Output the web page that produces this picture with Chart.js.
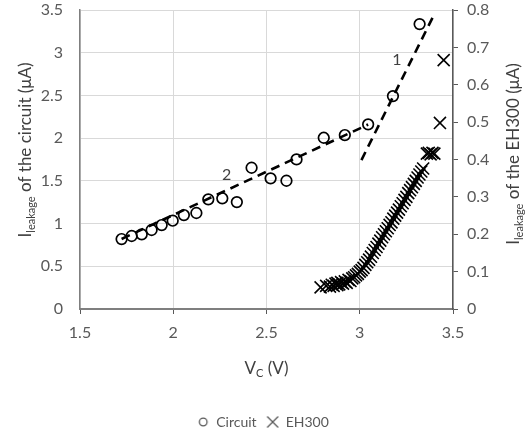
<!DOCTYPE html>
<html><head><meta charset="utf-8">
<script src="https://cdn.jsdelivr.net/npm/chart.js@4/dist/chart.umd.min.js"></script>
<style>html,body{margin:0;padding:0;background:#fff}</style>
</head><body>
<canvas id="c" width="526" height="439"></canvas>
<script>
// ---- data ----
const circuitV = [1.723,1.777,1.831,1.884,1.938,1.997,2.057,2.124,2.188,2.263,2.341,2.420,2.522,2.607,2.661,2.807,2.920,3.045,3.178,3.321];
const circuitI = [0.819,0.855,0.874,0.925,0.983,1.034,1.100,1.124,1.284,1.296,1.252,1.654,1.530,1.502,1.752,2.005,2.037,2.162,2.493,3.336];

const eh300V = [2.79,2.82,2.84,2.85,2.86,2.87,2.88,2.88,2.89,2.90,2.91,2.92,2.93,2.94,2.95,2.96,2.97,2.98,2.99,3.00,3.01,3.02,3.03,3.04,3.05,3.06,3.07,3.08,3.09,3.10,3.11,3.12,3.13,3.14,3.15,3.16,3.17,3.18,3.19,3.20,3.21,3.22,3.23,3.24,3.25,3.26,3.27,3.28,3.29,3.30,3.31,3.32,3.33,3.34,3.36,3.37,3.38,3.39,3.40,3.43,3.45];
const eh300I = [0.058,0.062,0.060,0.065,0.062,0.068,0.064,0.070,0.066,0.072,0.068,0.074,0.070,0.078,0.075,0.082,0.085,0.090,0.094,0.100,0.104,0.110,0.118,0.125,0.132,0.140,0.150,0.158,0.166,0.175,0.183,0.192,0.200,0.208,0.216,0.225,0.232,0.242,0.250,0.258,0.266,0.275,0.283,0.292,0.300,0.310,0.318,0.326,0.335,0.343,0.352,0.360,0.368,0.376,0.416,0.418,0.414,0.418,0.416,0.498,0.666];

const trend1V = [3.009, 3.397];
const trend1I = [1.744, 3.440];
const trend2V = [1.723, 3.045];
const trend2I = [0.820, 2.160];

const xTicks = [1.5, 2, 2.5, 3, 3.5];
const yLeftTicks = [0, 0.5, 1, 1.5, 2, 2.5, 3, 3.5];
const yRightTicks = [0, 0.1, 0.2, 0.3, 0.4, 0.5, 0.6, 0.7, 0.8];

const annotations = [
  {text: '1', v: 3.199, i: 2.915},
  {text: '2', v: 2.286, i: 1.568}
];

// ---- helpers ----
const FONT = 'Lato, "Open Sans", sans-serif';
const pts = (xs, ys) => xs.map((x, k) => ({x, y: ys[k]}));

function legendIcon(kind) {
  const c = document.createElement('canvas');
  c.width = 14; c.height = 14;
  const g = c.getContext('2d');
  g.strokeStyle = '#595959'; g.lineWidth = 1.3;
  if (kind === 'circle') {
    g.beginPath(); g.arc(7, 7, 3.8, 0, Math.PI * 2); g.stroke();
  } else {
    g.beginPath(); g.moveTo(1.5, 1.5); g.lineTo(12.5, 12.5); g.moveTo(12.5, 1.5); g.lineTo(1.5, 12.5); g.stroke();
  }
  return c;
}
const iconCircle = legendIcon('circle');
const iconCross = legendIcon('cross');

function drawSub(ctx, main, sub, rest, cx, cy, rot, size, subSize, drop) {
  ctx.save();
  ctx.translate(cx, cy);
  ctx.rotate(rot);
  ctx.textAlign = 'left';
  ctx.textBaseline = 'alphabetic';
  ctx.font = size + 'px ' + FONT;
  const w1 = ctx.measureText(main).width, w3 = ctx.measureText(rest).width;
  ctx.font = subSize + 'px ' + FONT;
  const w2 = ctx.measureText(sub).width;
  let px = -(w1 + w2 + w3) / 2;
  ctx.font = size + 'px ' + FONT; ctx.fillText(main, px, 0); px += w1;
  ctx.font = subSize + 'px ' + FONT; ctx.fillText(sub, px, drop); px += w2;
  ctx.font = size + 'px ' + FONT; ctx.fillText(rest, px, 0);
  ctx.restore();
}

const textPlugin = {
  id: 'texts',
  afterDraw(chart) {
    const ctx = chart.ctx;
    const sx = chart.scales.x, sy = chart.scales.y;
    ctx.save();
    ctx.fillStyle = '#404040';
    const cx = (chart.chartArea.left + chart.chartArea.right) / 2;
    drawSub(ctx, 'V', 'C', ' (V)', cx, 374, 0, 17, 11, 3);
    drawSub(ctx, 'I', 'leakage', ' of the circuit (μA)', 31, 150, -Math.PI / 2, 17, 11, 4);
    drawSub(ctx, 'I', 'leakage', ' of the EH300 (μA)', 519, 154, -Math.PI / 2, 17, 11, 4);
    ctx.font = '16px ' + FONT;
    ctx.textAlign = 'center';
    ctx.textBaseline = 'middle';
    annotations.forEach(a => {
      ctx.fillText(a.text, sx.getPixelForValue(a.v), sy.getPixelForValue(a.i));
    });
    ctx.restore();
  }
};

const noPad = (s) => { s.paddingTop = 0; s.paddingBottom = 0; };

new Chart(document.getElementById('c'), {
  type: 'scatter',
  data: {
    datasets: [
      {
        label: 'trend1', data: pts(trend1V, trend1I), yAxisID: 'y', showLine: true,
        borderColor: '#000', borderWidth: 2.6, borderDash: [9, 6], pointRadius: 0, order: 3
      },
      {
        label: 'trend2', data: pts(trend2V, trend2I), yAxisID: 'y', showLine: true,
        borderColor: '#000', borderWidth: 2.6, borderDash: [9, 6], pointRadius: 0, order: 3
      },
      {
        label: 'Circuit', data: pts(circuitV, circuitI), yAxisID: 'y',
        pointStyle: 'circle', pointRadius: 5.3, pointBorderWidth: 1.7,
        borderColor: '#000', backgroundColor: 'rgba(255,255,255,0)', order: 1
      },
      {
        label: 'EH300', data: pts(eh300V, eh300I), yAxisID: 'y2',
        pointStyle: 'crossRot', pointRadius: 8.5, pointBorderWidth: 1.6,
        borderColor: '#000', backgroundColor: '#000', order: 2
      }
    ]
  },
  options: {
    responsive: false,
    animation: false,
    devicePixelRatio: 1,
    layout: { padding: { top: 10, left: 0, right: 0, bottom: 0 } },
    plugins: {
      tooltip: { enabled: false },
      legend: {
        position: 'bottom',
        labels: {
          usePointStyle: true,
          boxWidth: 12, boxHeight: 12,
          padding: 10,
          color: '#595959',
          font: { family: FONT, size: 14 },
          filter: (item) => item.text === 'Circuit' || item.text === 'EH300',
          generateLabels: (chart) => chart.data.datasets.map((ds, i) => ({
            text: ds.label,
            datasetIndex: i,
            pointStyle: ds.label === 'Circuit' ? iconCircle : iconCross,
            fontColor: '#595959',
            strokeStyle: '#595959', fillStyle: '#fff', lineWidth: 0
          }))
        }
      }
    },
    scales: {
      x: {
        type: 'linear', min: 1.5, max: 3.5,
        afterBuildTicks: (s) => { s.ticks = xTicks.map(v => ({value: v})); },
        ticks: { color: '#595959', font: { family: FONT, size: 16 }, padding: 9, callback: (v) => String(v) },
        grid: { color: '#d9d9d9', lineWidth: 1, tickColor: '#595959', tickLength: 5 },
        border: { color: '#7f7f7f', width: 2 },
        afterFit: (s) => { s.height = 96; s.paddingLeft = 0; s.paddingRight = 0; }
      },
      y: {
        position: 'left', min: 0, max: 3.5,
        afterBuildTicks: (s) => { s.ticks = yLeftTicks.map(v => ({value: v})); },
        ticks: { color: '#595959', font: { family: FONT, size: 16 }, padding: 17, callback: (v) => String(v) },
        grid: { color: '#d9d9d9', lineWidth: 1, drawTicks: false },
        border: { color: '#7f7f7f', width: 1.5 },
        afterFit: (s) => { s.width = 80; noPad(s); }
      },
      y2: {
        position: 'right', min: 0, max: 0.8,
        afterBuildTicks: (s) => { s.ticks = yRightTicks.map(v => ({value: v})); },
        ticks: { color: '#595959', font: { family: FONT, size: 16 }, padding: 9, callback: (v) => String(v) },
        grid: { drawOnChartArea: false, tickColor: '#595959', tickLength: 5 },
        border: { color: '#595959', width: 1.5 },
        afterFit: (s) => { s.width = 73; noPad(s); }
      }
    }
  },
  plugins: [textPlugin]
});
</script>
</body></html>
